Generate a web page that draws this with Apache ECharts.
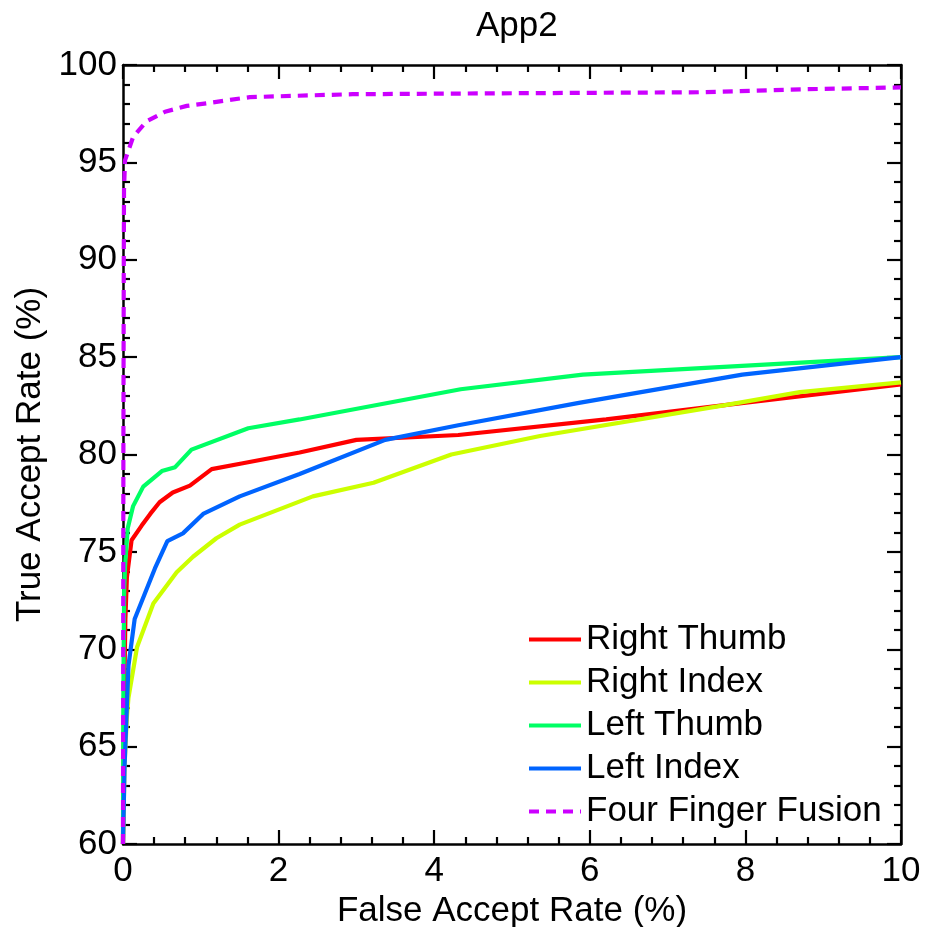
<!DOCTYPE html>
<html>
<head>
<meta charset="utf-8">
<script src="https://cdn.jsdelivr.net/npm/echarts@6/dist/echarts.min.js"></script>
<style>
html,body{margin:0;padding:0;background:#fff;}
#chart{width:933px;height:927px;}
</style>
</head>
<body>
<div id="chart"></div>
<script>
const seriesNames = ['Right Thumb', 'Right Index', 'Left Thumb', 'Left Index', 'Four Finger Fusion'];
const xTicks = [0, 2, 4, 6, 8, 10];
const yTicks = [60, 65, 70, 75, 80, 85, 90, 95, 100];

const rightThumb = [[0,60],[0.01,66],[0.03,71.5],[0.05,73.7],[0.11,75.6],[0.24,76.35],[0.35,76.95],[0.47,77.55],[0.64,78.05],[0.86,78.4],[1.14,79.25],[1.54,79.55],[2.27,80.1],[3.0,80.75],[4.31,81.0],[6.21,81.8],[7.76,82.55],[10,83.6]];
const rightIndex = [[0,60],[0.02,64],[0.05,66.5],[0.07,67.5],[0.18,70.1],[0.39,72.35],[0.69,73.95],[0.9,74.75],[1.2,75.7],[1.5,76.4],[2.44,77.85],[3.22,78.55],[4.22,80.0],[5.36,80.95],[7.76,82.55],[8.7,83.2],[10,83.7]];
const leftThumb = [[0,60],[0.005,68],[0.015,73],[0.026,74.25],[0.06,76.2],[0.13,77.35],[0.26,78.35],[0.5,79.15],[0.67,79.35],[0.88,80.25],[1.61,81.35],[2.27,81.8],[4.34,83.35],[5.91,84.1],[10,85.0]];
const leftIndex = [[0,60],[0.02,64],[0.07,69.15],[0.15,71.55],[0.28,72.85],[0.41,74.15],[0.57,75.55],[0.77,75.95],[1.03,76.95],[1.5,77.85],[2.27,79.0],[3.37,80.75],[4.31,81.5],[5.86,82.65],[7.96,84.1],[10,85.0]];
const fourFinger = [[0,60],[0.005,80],[0.01,90],[0.013,93.6],[0.026,95.1],[0.13,96.3],[0.3,97.1],[0.54,97.6],[0.82,97.9],[1.12,98.06],[1.63,98.35],[2.4,98.44],[2.95,98.5],[5,98.55],[7.4,98.6],[8.72,98.75],[10,98.85]];

const colors = ['#ff0000', '#ccff00', '#00ff64', '#0064ff', '#cc00ff'];
const allData = [rightThumb, rightIndex, leftThumb, leftIndex, fourFinger];

const FONT = '"Liberation Sans", Arial, Helvetica, sans-serif';
const FS = 35;
const chart = echarts.init(document.getElementById('chart'), null, {renderer: 'canvas'});

function axisCommon(extra) {
  return Object.assign({
    axisLine: {show: true, onZero: false, lineStyle: {color: '#000', width: 2.5}},
    axisTick: {show: true, inside: true, length: 14, lineStyle: {color: '#000', width: 2.2}},
    minorTick: {show: true, splitNumber: 5, length: 7, lineStyle: {color: '#000', width: 2.2}},
    splitLine: {show: false},
    minorSplitLine: {show: false}
  }, extra);
}

const option = {
  animation: false,
  backgroundColor: '#fff',
  title: {
    text: 'App2', left: 471, top: 4,
    textStyle: {fontFamily: FONT, fontSize: FS, fontWeight: 'normal', color: '#000'}
  },
  grid: {left: 123, right: 32, top: 65, bottom: 83, containLabel: false, outerBoundsMode: 'none'},
  legend: {
    orient: 'vertical', left: 527, top: 622, padding: 0,
    itemWidth: 52, itemHeight: 14, itemGap: 8,
    itemStyle: {opacity: 0},
    lineStyle: {width: 4},
    textStyle: {fontFamily: FONT, fontSize: FS, lineHeight: 35, color: '#000'},
    data: seriesNames
  },
  xAxis: [
    axisCommon({
      type: 'value', min: xTicks[0], max: xTicks[xTicks.length - 1], interval: 2, position: 'bottom',
      name: 'False Accept Rate (%)', nameLocation: 'middle', nameGap: 40,
      nameTextStyle: {fontFamily: FONT, fontSize: FS, color: '#000'},
      axisLabel: {show: true, margin: 10, fontFamily: FONT, fontSize: FS, color: '#000'}
    }),
    axisCommon({
      type: 'value', min: xTicks[0], max: xTicks[xTicks.length - 1], interval: 2, position: 'top',
      axisLabel: {show: false}
    })
  ],
  yAxis: [
    axisCommon({
      type: 'value', min: yTicks[0], max: yTicks[yTicks.length - 1], interval: 5, position: 'left',
      name: 'True Accept Rate (%)', nameLocation: 'middle', nameGap: 75,
      nameTextStyle: {fontFamily: FONT, fontSize: FS, color: '#000'},
      axisLabel: {show: true, margin: 6, fontFamily: FONT, fontSize: FS, color: '#000'}
    }),
    axisCommon({
      type: 'value', min: yTicks[0], max: yTicks[yTicks.length - 1], interval: 5, position: 'right',
      axisLabel: {show: false}
    })
  ],
  series: seriesNames.map((name, i) => ({
    name: name,
    type: 'line',
    xAxisIndex: 0,
    yAxisIndex: 0,
    data: allData[i],
    showSymbol: false,
    symbol: 'none',
    smooth: false,
    color: colors[i],
    lineStyle: {color: colors[i], width: 4.2, type: i === 4 ? [10, 7] : 'solid'},
    itemStyle: {color: colors[i]},
    z: 2 + i
  }))
};
chart.setOption(option);
</script>
</body>
</html>
